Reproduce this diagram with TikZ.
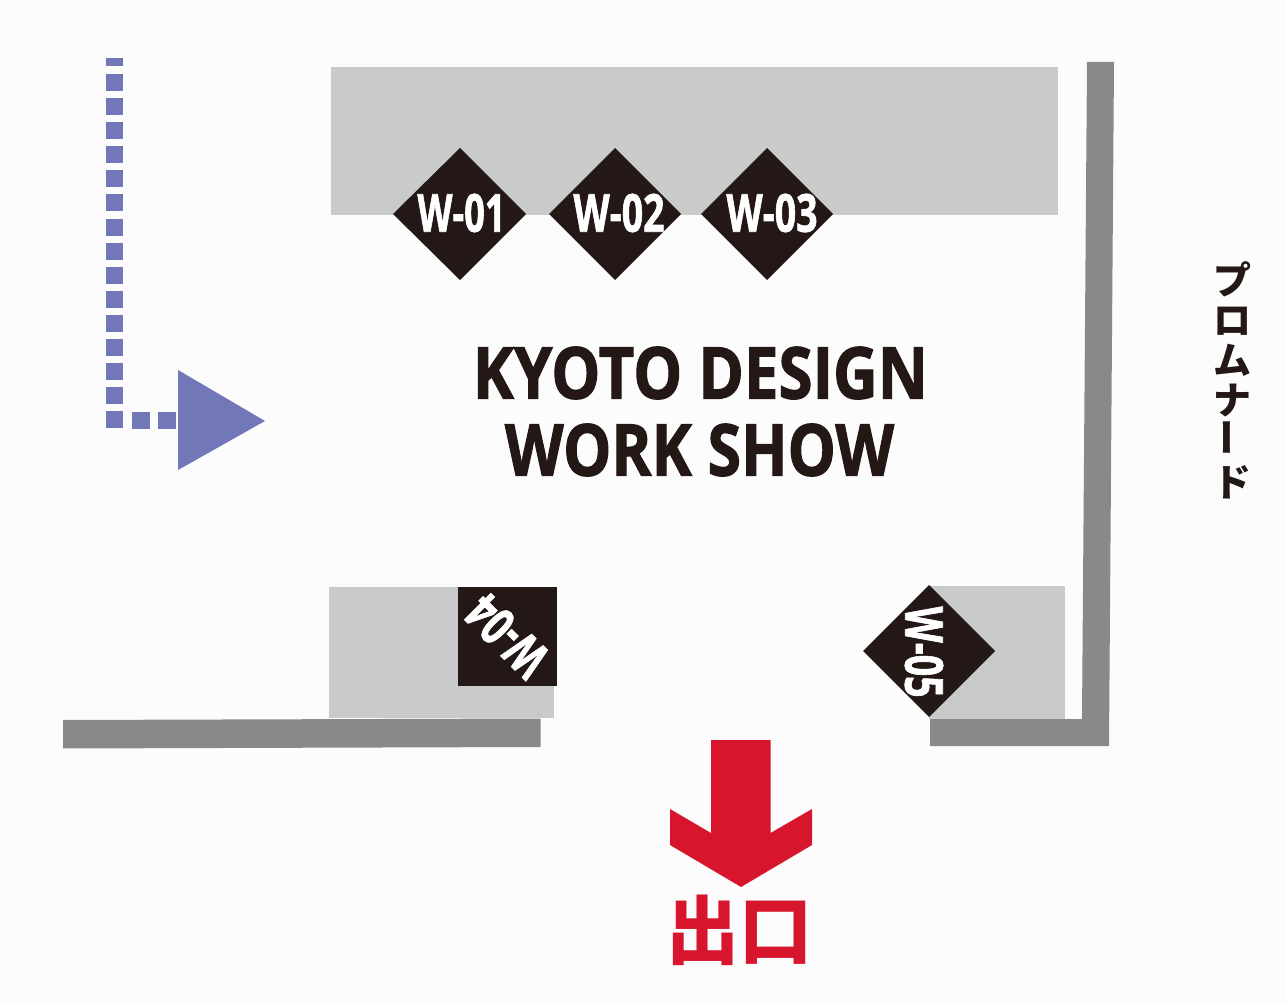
\documentclass[tikz,border=0pt]{standalone}
\usepackage{fontspec}
\setmainfont[BoldFeatures={FakeBold=1.6}]{Open Sans}
\newfontfamily\jpblack{Noto Sans CJK JP Black}
\newlength{\pxu}
\setlength{\pxu}{0.75pt}
\definecolor{bgc}{HTML}{FCFCFC}
\definecolor{roomc}{HTML}{C9CBCA}
\definecolor{wallc}{HTML}{898989}
\definecolor{darkc}{HTML}{231815}
\definecolor{bluec}{HTML}{7277B8}
\definecolor{redc}{HTML}{D7162E}
\newcommand{\fitbox}[3]{\resizebox{#1\pxu}{#2\pxu}{\bfseries #3}}
\tikzset{
  room/.style={fill=roomc,draw=none},
  wall/.style={fill=wallc,draw=none},
  badge/.style={fill=darkc,draw=none},
  dot/.style={fill=bluec,draw=none},
  lbl/.style={inner sep=0pt,outer sep=0pt,text=white},
  ttl/.style={inner sep=0pt,outer sep=0pt,text=darkc},
}
\begin{document}
\begin{tikzpicture}[x=0.75pt,y=-0.75pt]
\path[use as bounding box,fill=bgc] (0,0) rectangle (1286,1005);
% rooms
\fill[room] (331,67) rectangle (1058,215);
\fill[room] (329,587) rectangle (553.5,718);
\fill[room] (929,586) rectangle (1064.5,719);
% walls
\fill[wall] (63,720) -- (540.5,718.5) -- (540.5,747) -- (63,748.5) -- cycle;
\fill[wall] (1087,62) -- (1114,62) -- (1109,746) -- (930,746) -- (930,719) -- (1082,719) -- cycle;
% badges
\fill[badge] (460,148) -- (526,214) -- (460,280) -- (393,214) -- cycle;
\fill[badge] (615,148) -- (681,214) -- (615,280) -- (549,214) -- cycle;
\fill[badge] (767,148) -- (833,214) -- (767,280) -- (701,214) -- cycle;
\fill[badge] (458,587) rectangle (557,686);
\fill[badge] (929,585) -- (995,651) -- (929,717) -- (863,651) -- cycle;
\node[lbl] (w1) at (461.5,213) {\fitbox{88}{38}{W-01}};
\node[lbl] (w2) at (619,213) {\fitbox{91}{38}{W-02}};
\node[lbl] (w3) at (772,213) {\fitbox{91}{38}{W-03}};
\node[lbl,rotate=135] (w4) at (507,636) {\fitbox{91}{38}{W-04}};
\node[lbl,rotate=-90] (w5) at (924,652) {\fitbox{91}{38}{W-05}};
% title
\node[ttl] (t1) at (700.5,373) {\fitbox{455}{52}{KYOTO DESIGN}};
\node[ttl] (t2) at (699.5,450) {\fitbox{389}{52}{WORK SHOW}};
% dotted route
\fill[dot] (106,58) rectangle (123,66.5);
\foreach \k in {0,...,14} {
  \fill[dot] (106,{74+24.1*\k}) rectangle (123,{91+24.1*\k});
}
\fill[dot] (131.5,412.5) rectangle (149.5,429.5);
\fill[dot] (158,412.5) rectangle (176,429.5);
\fill[dot] (178,370) -- (265,421) -- (178,470) -- cycle;
% exit arrow
\fill[redc] (711,740) -- (770.5,740) -- (770.5,833) -- (812,809) -- (812,845) -- (741,887) -- (670,845) -- (670,809) -- (711,833) -- cycle;
\node[inner sep=0pt,text=redc] (exit) at (739.5,930.5) {\resizebox{146\pxu}{63.5\pxu}{\jpblack 出口}};
% promenade
\node[ttl,align=center,font=\jpblack\fontsize{28.5}{30}\selectfont] (prom) at (1232,380) {プ\\ロ\\ム\\ナ\\\rotatebox{90}{ー}\\ド};
\end{tikzpicture}
\end{document}
